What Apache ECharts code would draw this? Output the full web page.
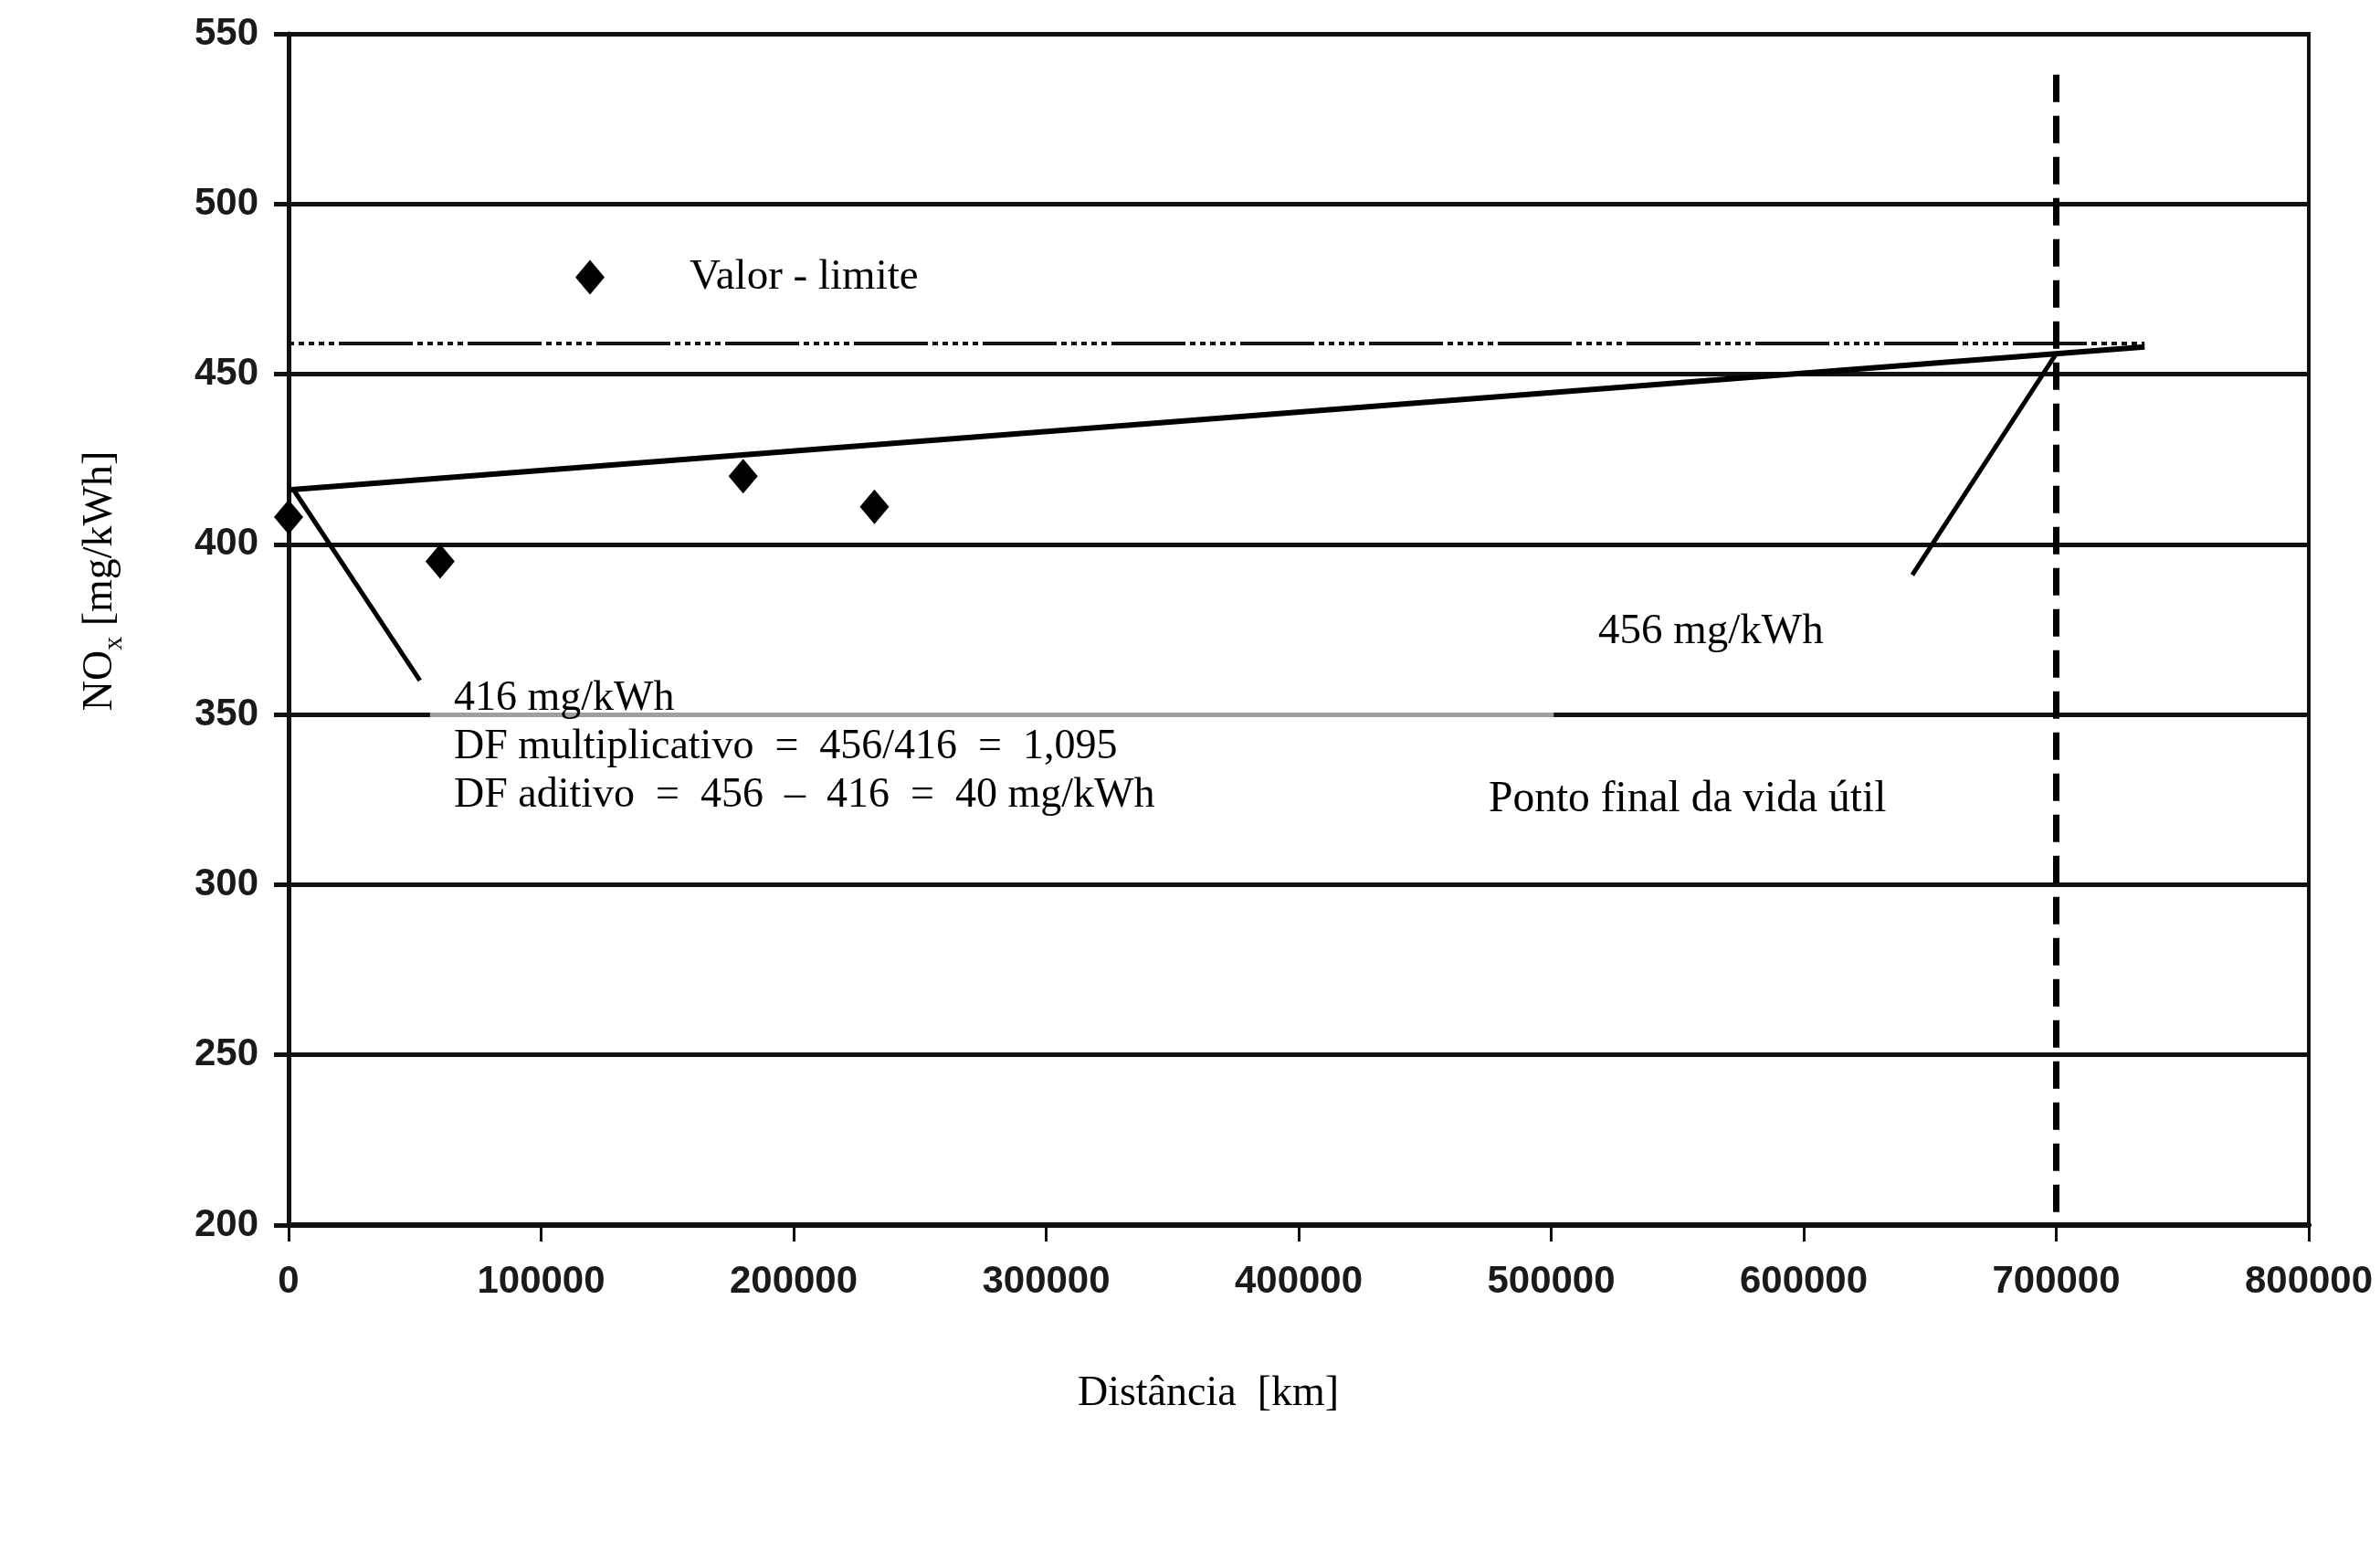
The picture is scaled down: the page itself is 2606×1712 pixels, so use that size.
<!DOCTYPE html>
<html>
<head>
<meta charset="utf-8">
<script src="https://cdn.jsdelivr.net/npm/echarts@6/dist/echarts.min.js"></script>
<style>html,body{margin:0;padding:0;background:#fff}#c{width:2606px;height:1712px}</style>
</head>
<body>
<div id="c"></div>
<script>
// ---- data ----
const measKm   = [0, 60000, 180000, 232000];
const measNOx  = [408, 395, 420, 411];
const trendKm  = [0, 735000];
const trendNOx = [416, 458];
const limitKm  = [0, 735000];
const limitNOx = [459, 459];
const eolKm    = [700000, 700000];
const eolNOx   = [538, 200];
const lead1Km  = [2000, 52000];
const lead1NOx = [416, 360];
const lead2Km  = [700000, 643000];
const lead2NOx = [456, 391];
const maskKm   = [56000, 501000];
const maskNOx  = [349.2, 350.8];
const xMin = 0, xMax = 800000, xStep = 100000;
const yMin = 200, yMax = 550, yStep = 50;
const legendName = 'Valor - limite';
const text416 = '416 mg/kWh\nDF multiplicativo  =  456/416  =  1,095\nDF aditivo  =  456  –  416  =  40 mg/kWh';
const text456 = '456 mg/kWh';
const textEol = 'Ponto final da vida útil';

const zip = (a, b) => a.map((v, i) => [v, b[i]]);
const SERIF = '"Liberation Serif", "Times New Roman", serif';
const SANS = '"Liberation Sans", Arial, sans-serif';
const INK = '#111';

const chart = echarts.init(document.getElementById('c'), null, {renderer: 'canvas'});
chart.setOption({
  animation: false,
  backgroundColor: '#fff',
  grid: {left: 316, right: 78, top: 37, bottom: 371, show: true, borderColor: INK, borderWidth: 4, backgroundColor: 'transparent'},
  legend: {
    data: [legendName], left: 630, top: 280, padding: 0,
    itemWidth: 32, itemHeight: 38, icon: 'diamond', symbolKeepAspect: false,
    selectedMode: false,
    textStyle: {fontFamily: SERIF, fontSize: 47, color: '#000', padding: [0, 0, 0, 88]}
  },
  xAxis: {
    type: 'value', min: xMin, max: xMax, interval: xStep,
    name: 'Distância  [km]', nameLocation: 'middle', nameGap: 162,
    nameTextStyle: {fontFamily: SERIF, fontSize: 46, color: '#000', padding: [0, 198, 0, 0]},
    axisLine: {show: true, onZero: false, lineStyle: {color: INK, width: 6}},
    axisTick: {show: true, length: 18, lineStyle: {color: INK, width: 3}},
    axisLabel: {margin: 41, fontFamily: SANS, fontWeight: 'bold', fontSize: 42, color: '#1a1a1a', formatter: v => String(v)},
    splitLine: {show: false}
  },
  yAxis: {
    type: 'value', min: yMin, max: yMax, interval: yStep,
    name: '{a|NO}{s|x}{a| [mg/kWh]}', nameLocation: 'middle', nameRotate: 90, nameGap: 176,
    nameTextStyle: {fontFamily: SERIF, fontSize: 46, color: '#000', padding: [0, 0, 0, 106],
      rich: {a: {fontFamily: SERIF, fontSize: 46, color: '#000'}, s: {fontFamily: SERIF, fontSize: 30, color: '#000', padding: [30, 0, 0, 0]}}},
    axisLine: {show: true, onZero: false, lineStyle: {color: INK, width: 5}},
    axisTick: {show: true, length: 16, lineStyle: {color: INK, width: 5}},
    axisLabel: {margin: 33, fontFamily: SANS, fontWeight: 'bold', fontSize: 42, color: '#1a1a1a'},
    splitLine: {show: true, lineStyle: {color: INK, width: 5}}
  },
  series: [
    {
      name: 'mask', type: 'line', data: [], silent: true,
      markArea: {silent: true, itemStyle: {color: 'rgba(255,255,255,0.6)'},
        data: [[{coord: [maskKm[0], maskNOx[0]]}, {coord: [maskKm[1], maskNOx[1]]}]]}
    },
    {
      name: 'limite', type: 'line', data: zip(limitKm, limitNOx), symbol: 'none', silent: true,
      lineStyle: {color: INK, width: 4, type: [81, 5, 6, 5, 6, 5, 6, 5, 6, 5, 6, 5], dashOffset: 86}
    },
    {
      name: 'trend', type: 'line', data: zip(trendKm, trendNOx), symbol: 'none', silent: true,
      lineStyle: {color: '#000', width: 6}
    },
    {
      name: 'eol', type: 'line', data: zip(eolKm, eolNOx), symbol: 'none', silent: true,
      lineStyle: {color: '#000', width: 7, type: [30, 15]}
    },
    {
      name: 'lead1', type: 'line', data: zip(lead1Km, lead1NOx), symbol: 'none', silent: true,
      lineStyle: {color: '#000', width: 5}
    },
    {
      name: 'lead2', type: 'line', data: zip(lead2Km, lead2NOx), symbol: 'none', silent: true,
      lineStyle: {color: '#000', width: 5}
    },
    {
      name: legendName, type: 'scatter', data: zip(measKm, measNOx), symbol: 'diamond',
      symbolSize: [32, 38], itemStyle: {color: '#000', opacity: 1}, z: 5
    }
  ],
  graphic: [
    {type: 'text', left: 497, top: 738, z: 100, style: {text: text416, font: '46px ' + SERIF, lineHeight: 53, fill: '#000'}},
    {type: 'text', left: 1750, top: 665, z: 100, style: {text: text456, font: '47px ' + SERIF, lineHeight: 53, fill: '#000'}},
    {type: 'text', left: 1630, top: 849, z: 100, style: {text: textEol, font: '47.5px ' + SERIF, lineHeight: 53, fill: '#000'}}
  ]
});
</script>
</body>
</html>
